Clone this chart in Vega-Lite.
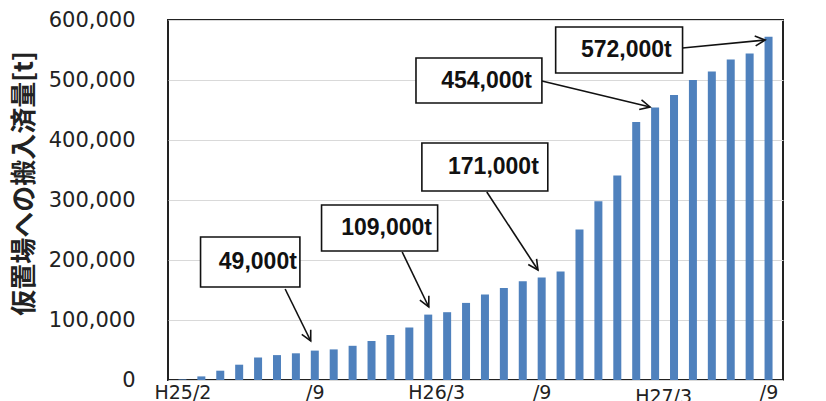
{
  "$schema": "https://vega.github.io/schema/vega-lite/v6.json",
  "autosize": {"type": "none"},
  "padding": {"left": 168, "top": 20, "right": 43, "bottom": 21},
  "width": 615,
  "height": 360,
  "background": "white",
  "config": {
    "view": {"stroke": "#222222", "strokeWidth": 2},
    "font": "DejaVu Sans"
  },
  "datasets": {
    "bars": [
      {"idx": 1, "value": 1000}, {"idx": 2, "value": 6000}, {"idx": 3, "value": 15500},
      {"idx": 4, "value": 25500}, {"idx": 5, "value": 37500}, {"idx": 6, "value": 41500},
      {"idx": 7, "value": 44500}, {"idx": 8, "value": 49000}, {"idx": 9, "value": 51000},
      {"idx": 10, "value": 57000}, {"idx": 11, "value": 65000}, {"idx": 12, "value": 75000},
      {"idx": 13, "value": 87500}, {"idx": 14, "value": 109000}, {"idx": 15, "value": 113000},
      {"idx": 16, "value": 128500}, {"idx": 17, "value": 142500}, {"idx": 18, "value": 153500},
      {"idx": 19, "value": 164500}, {"idx": 20, "value": 171000}, {"idx": 21, "value": 181000},
      {"idx": 22, "value": 251000}, {"idx": 23, "value": 298000}, {"idx": 24, "value": 341000},
      {"idx": 25, "value": 430000}, {"idx": 26, "value": 454000}, {"idx": 27, "value": 475000},
      {"idx": 28, "value": 500000}, {"idx": 29, "value": 514000}, {"idx": 30, "value": 534000},
      {"idx": 31, "value": 544000}, {"idx": 32, "value": 572000}
    ],
    "notes": [
      {"label": "49,000t", "x1": 1.957, "x2": 7.212, "y1": 238333, "y2": 155000, "tx": 7.05, "ty": 196667, "ax1": 6.432, "ay1": 151667, "ax2": 7.784, "ay2": 65000},
      {"label": "109,000t", "x1": 8.357, "x2": 14.497, "y1": 291667, "y2": 215000, "tx": 14.2, "ty": 253333, "ax1": 12.623, "ay1": 213333, "ax2": 14.028, "ay2": 121667},
      {"label": "171,000t", "x1": 13.664, "x2": 20.324, "y1": 395000, "y2": 315000, "tx": 19.85, "ty": 355000, "ax1": 17.098, "ay1": 313333, "ax2": 19.804, "ay2": 183333},
      {"label": "454,000t", "x1": 13.352, "x2": 20.012, "y1": 536667, "y2": 461667, "tx": 19.49, "ty": 498333, "ax1": 20.012, "ay1": 498333, "ax2": 25.735, "ay2": 455000},
      {"label": "572,000t", "x1": 20.74, "x2": 27.452, "y1": 588333, "y2": 511667, "tx": 26.88, "ty": 550000, "ax1": 27.452, "ay1": 553333, "ax2": 31.82, "ay2": 566667}
    ]
  },
  "layer": [
    {
      "data": {"name": "bars"},
      "mark": {"type": "bar", "color": "#4F81BD", "size": 8},
      "encoding": {
        "x": {
          "field": "idx", "type": "quantitative",
          "scale": {"domain": [0.5, 32.5], "nice": false, "zero": false},
          "axis": {
            "title": null,
            "values": [1, 8, 14, 20, 26, 32],
            "labelExpr": "datum.value == 1 ? 'H25/2' : datum.value == 14 ? 'H26/3' : datum.value == 26 ? 'H27/3' : '/9'",
            "grid": false, "ticks": false, "domain": false,
            "labelFont": "DejaVu Sans", "labelFontSize": 19, "labelColor": "#222222",
            "labelPadding": {"condition": {"test": "datum.value == 26", "value": 7}, "value": 3},
            "labelOffset": {"condition": {"test": "datum.value == 14 || datum.value == 26", "value": 8}, "value": 0},
            "labelFlush": false, "labelOverlap": false
          }
        },
        "y": {
          "field": "value", "type": "quantitative",
          "scale": {"domain": [0, 600000], "nice": false},
          "axis": {
            "title": "仮置場への搬入済量[t]",
            "titleFont": "Noto Sans CJK JP", "titleFontSize": 26, "titleFontWeight": "bold",
            "titleColor": "#222222", "titleAngle": -90, "titleBaseline": "middle",
            "titleX": -144, "titleY": 163, "titleAlign": "center",
            "values": [0, 100000, 200000, 300000, 400000, 500000, 600000],
            "format": ",d",
            "grid": true, "gridColor": "#d9d9d9", "gridWidth": 1,
            "ticks": false, "domain": false,
            "labelFont": "DejaVu Sans", "labelFontSize": 21, "labelColor": "#222222",
            "labelPadding": 33
          }
        }
      }
    },
    {
      "data": {"name": "notes"},
      "mark": {"type": "rule", "color": "#111111", "strokeWidth": 1.6},
      "encoding": {
        "x": {"field": "ax1", "type": "quantitative"},
        "x2": {"field": "ax2"},
        "y": {"field": "ay1", "type": "quantitative"},
        "y2": {"field": "ay2"}
      }
    },
    {
      "data": {"name": "notes"},
      "transform": [
        {"calculate": "atan2((datum.ax2 - datum.ax1) * 19.219, (datum.ay2 - datum.ay1) * 0.0006) * 180 / PI", "as": "ang"}
      ],
      "mark": {"type": "point", "shape": "M-0.5,1L0,0L0.5,1", "filled": false, "stroke": "#111111", "strokeWidth": 1.6, "size": 400, "opacity": 1},
      "encoding": {
        "x": {"field": "ax2", "type": "quantitative"},
        "y": {"field": "ay2", "type": "quantitative"},
        "angle": {"field": "ang", "type": "quantitative", "scale": null}
      }
    },
    {
      "data": {"name": "notes"},
      "mark": {"type": "rect", "fill": "white", "stroke": "#111111", "strokeWidth": 1.6},
      "encoding": {
        "x": {"field": "x1", "type": "quantitative"},
        "x2": {"field": "x2"},
        "y": {"field": "y1", "type": "quantitative"},
        "y2": {"field": "y2"}
      }
    },
    {
      "data": {"name": "notes"},
      "mark": {"type": "text", "align": "right", "baseline": "middle", "font": "Liberation Sans", "fontWeight": "bold", "fontSize": 23, "color": "#111111"},
      "encoding": {
        "x": {"field": "tx", "type": "quantitative"},
        "y": {"field": "ty", "type": "quantitative"},
        "text": {"field": "label"}
      }
    }
  ]
}
